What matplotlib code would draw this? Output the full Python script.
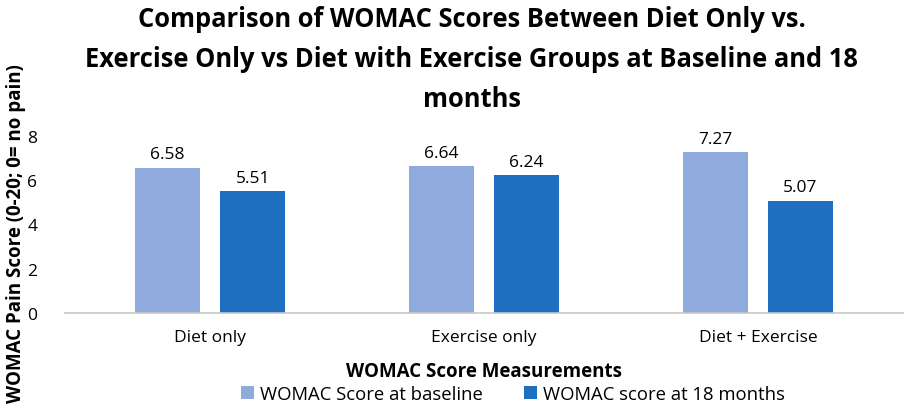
import numpy as np
from matplotlib import pyplot as plt

groups = ["Diet only", "Exercise only", "Diet + Exercise"]
baseline = [6.58, 6.64, 7.27]
month18 = [5.51, 6.24, 5.07]
series_names = ["WOMAC Score at baseline", "WOMAC score at 18 months"]

plt.rcParams['font.family'] = ['Open Sans', 'DejaVu Sans']

fig = plt.figure(figsize=(9.16, 4.1), dpi=100)
ax = fig.add_axes([0.071, 0.235, 0.915, 0.43])

x = np.arange(len(groups))
w = 0.236
b1 = ax.bar(x - 0.155, baseline, w, color='#8faadc', label=series_names[0])
b2 = ax.bar(x + 0.155, month18, w, color='#1f6fc1', label=series_names[1])
ax.bar_label(b1, labels=[f"{v:.2f}" for v in baseline], padding=4, fontsize=12.5)
ax.bar_label(b2, labels=[f"{v:.2f}" for v in month18], padding=4, fontsize=12.5)

ax.set_xlim(-0.53, 2.53)
ax.set_ylim(0, 8)
ax.set_yticks([0, 2, 4, 6, 8])
ax.set_xticks(x)
ax.set_xticklabels(groups, fontsize=12.5)
ax.tick_params(axis='y', labelsize=12.5, length=0, pad=20)
ax.tick_params(axis='x', length=0, pad=12)
for s in ['top', 'right', 'left']:
    ax.spines[s].set_visible(False)
ax.spines['bottom'].set_color('#c8c8c8')
ax.spines['bottom'].set_linewidth(1.2)

ax.set_xlabel("WOMAC Score Measurements", fontsize=13.5, fontweight='bold', labelpad=11)
fig.text(0.017, 0.43, "WOMAC Pain Score (0-20; 0= no pain)", rotation=90,
         fontsize=13.5, fontweight='bold', ha='center', va='center')

fig.suptitle("Comparison of WOMAC Scores Between Diet Only vs.\n"
             "Exercise Only vs Diet with Exercise Groups at Baseline and 18\nmonths",
             x=0.515, y=0.985, fontsize=18.4, fontweight='bold', linespacing=1.62)

fig.legend(loc='lower center', bbox_to_anchor=(0.56, -0.025), ncol=2, frameon=False,
           fontsize=13.3, handlelength=0.7, handleheight=0.7, handletextpad=0.35,
           columnspacing=2.2)

plt.savefig("out.png", dpi=100)
